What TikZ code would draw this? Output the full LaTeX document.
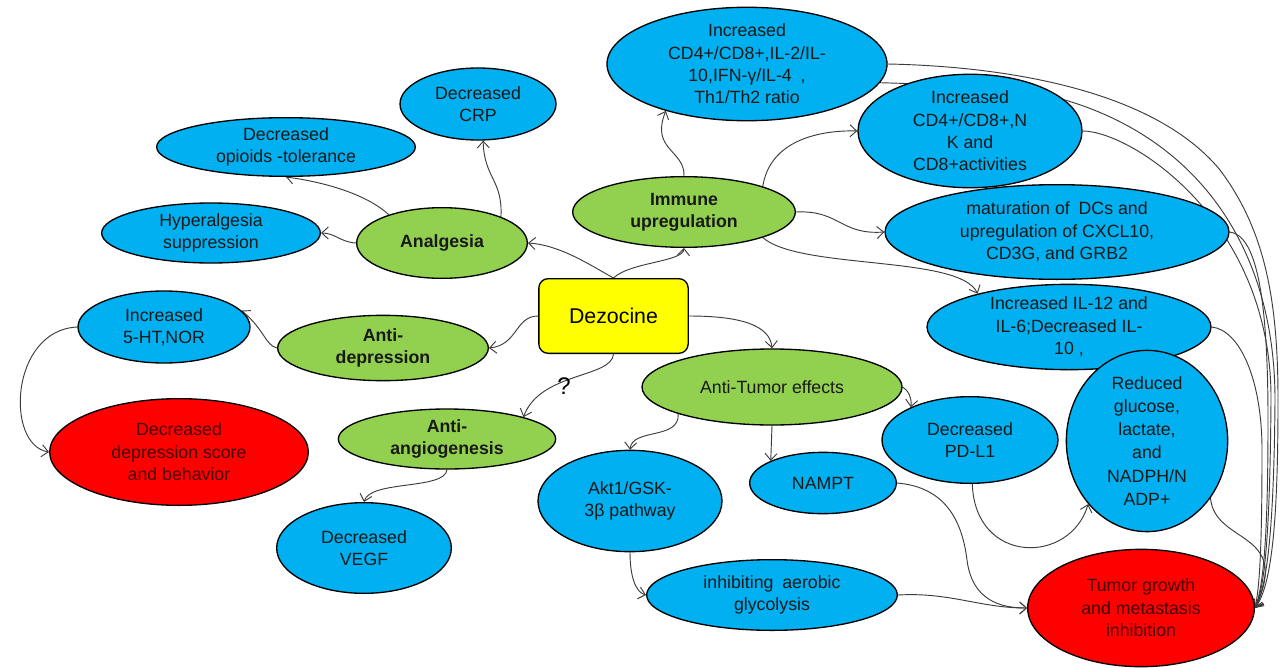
\documentclass[tikz,border=0pt]{standalone}
\usepackage{fontspec}
\setmainfont{Liberation Sans}
\usetikzlibrary{shapes.geometric,arrows.meta}
\definecolor{cblue}{RGB}{0,176,240}
\definecolor{cgreen}{RGB}{146,208,80}
\definecolor{cred}{RGB}{255,0,0}
\definecolor{cyel}{RGB}{255,255,0}
\definecolor{cdred}{RGB}{70,0,0}
\definecolor{cline}{RGB}{60,60,60}
\pgfdeclarelayer{bg}
\pgfsetlayers{bg,main}
\begin{document}
\begin{tikzpicture}[x=0.75pt,y=-0.75pt,
  ell/.style={ellipse,draw=black,line width=1pt,align=center,inner sep=0pt,
    font=\fontsize{13.3}{16.8}\selectfont,text=black!90},
  blu/.style={ell,fill=cblue},
  grn/.style={ell,fill=cgreen,font=\fontsize{13.3}{16.8}\selectfont\bfseries},
  rdn/.style={ell,fill=cred,text=cdred},
  conn/.style={draw=cline,line width=0.7pt,-{Straight Barb[length=5pt,width=9pt]}}]
\useasboundingbox (0,0) rectangle (1280,667);
% nodes
\node[blu,minimum width=210pt,minimum height=82pt] (th) at (747,64) {Increased\\CD4+/CD8+,IL-2/IL-\\10,IFN-γ/IL-4\enspace,\\Th1/Th2 ratio};
\node[blu,minimum width=168pt,minimum height=83pt] (nk) at (970,131) {Increased\\CD4+/CD8+,N\\K and\\CD8+activities};
\node[blu,minimum width=258pt,minimum height=71pt] (dc) at (1057,232) {maturation of\enspace DCs and\\upregulation of CXCL10,\\CD3G, and GRB2};
\node[blu,minimum width=213pt,minimum height=64pt] (il) at (1069,327) {Increased IL-12 and\\IL-6;Decreased IL-\\10 ,};
\node[blu,minimum width=121pt,minimum height=111pt,font=\fontsize{13.3}{17.3}\selectfont] (rg) at (1147,441) {Reduced\\glucose,\\lactate,\\and\\NADPH/N\\ADP+};
\node[blu,minimum width=132pt,minimum height=65pt] (pd) at (970,440) {Decreased\\PD-L1};
\node[rdn,minimum width=170pt,minimum height=88pt] (tu) at (1141,608) {Tumor growth\\and metastasis\\inhibition};
\node[blu,minimum width=110pt,minimum height=46pt] (na) at (823,483) {NAMPT};
\node[blu,minimum width=188pt,minimum height=53pt] (gl) at (772,595) {inhibiting\enspace aerobic\\glycolysis};
\node[blu,minimum width=138pt,minimum height=76pt] (ak) at (630,501) {Akt1/GSK-\\3β pathway};
\node[ell,fill=cgreen,minimum width=195pt,minimum height=57pt] (at) at (772,387) {Anti-Tumor effects};
\node[draw=black,line width=1pt,fill=cyel,rounded corners=7pt,minimum width=112pt,minimum height=56pt,
  font=\fontsize{16}{19}\selectfont] (dz) at (613.5,316) {Dezocine};
\node[grn,minimum width=167pt,minimum height=53pt] (im) at (684,212) {Immune\\upregulation};
\node[grn,minimum width=128pt,minimum height=53pt] (an) at (442,243) {Analgesia};
\node[blu,minimum width=117pt,minimum height=54pt] (crp) at (478,104) {Decreased\\CRP};
\node[blu,minimum width=194pt,minimum height=44pt] (op) at (286,147) {Decreased\\opioids -tolerance};
\node[blu,minimum width=164pt,minimum height=45pt] (hy) at (211,233) {Hyperalgesia\\suppression};
\node[blu,minimum width=129pt,minimum height=54pt] (ht) at (164,327) {Increased\\5-HT,NOR};
\node[grn,minimum width=158pt,minimum height=49pt] (ad) at (383,348) {Anti-\\depression};
\node[rdn,minimum width=194pt,minimum height=80pt] (dd) at (179,452) {Decreased\\depression score\\and behavior};
\node[grn,minimum width=163pt,minimum height=45pt] (aa) at (447,439) {Anti-\\angiogenesis};
\node[blu,minimum width=131pt,minimum height=68pt] (ve) at (364,548) {Decreased\\VEGF};
\node[font=\fontsize{18}{20}\selectfont] (q) at (564,386) {?};
% connectors
\begin{pgfonlayer}{bg}
\fill[white] (0,0) rectangle (1280,667);
\draw[conn] (dz.north) .. controls (590,265) and (560,245) .. (an.east);
\draw[conn] (dz.north) .. controls (630,262) and (683,262) .. (im.south);
\draw[conn] (dz.west) .. controls (515,316) and (518,345) .. (ad.east);
\draw[conn] (dz.south) .. controls (612,378) and (540,372) .. (aa.16);
\draw[conn] (dz.east) .. controls (740,316) and (770,325) .. (at.north);
\draw[conn] (an.24) .. controls (503,180) and (484,178) .. (crp.-82);
\draw[conn] (an.152) .. controls (362,190) and (310,180) .. (op.-90);
\draw[conn] (an.west) .. controls (340,242) and (335,233) .. (hy.east);
\draw[conn] (im.north) .. controls (685,150) and (650,150) .. (th.-150);
\draw[conn] (im.18) .. controls (770,140) and (820,130) .. (nk.west);
\draw[conn] (im.east) .. controls (840,210) and (840,235) .. (dc.west);
\draw[conn] (im.-18) .. controls (800,270) and (960,255) .. (il.160);
\draw[conn] (ad.west) .. controls (265,345) and (265,330) .. (ht.12);
\draw[conn] (ht.west) .. controls (10,330) and (5,445) .. (dd.west);
\draw[conn] (aa.south) .. controls (445,490) and (370,480) .. (ve.north);
\draw[conn] (at.-164) .. controls (680,440) and (632,428) .. (ak.north);
\draw[conn] (at.south) -- (na.157);
\draw[conn] (at.east) .. controls (908,390) and (912,398) .. (pd.151);
\draw[conn] (ak.south) .. controls (630,575) and (635,592) .. (gl.west);
\draw[conn] (pd.-87) .. controls (975,565) and (1070,565) .. (rg.-133);
\draw[conn] (na.east) .. controls (945,487) and (962,520) .. (967,560) .. controls (972,600) and (1000,608) .. (tu.west);
\draw[conn] (gl.east) .. controls (950,592) and (980,608) .. (tu.west);
\draw[conn] (rg.-42) .. controls (1215,545) and (1292,530) .. (tu.east);
\draw[conn] (th.east) .. controls (990,66) and (1150,85) .. (1220,170) .. controls (1265,230) and (1278,300) .. (1278,400) .. controls (1278,520) and (1272,585) .. (tu.east);
\draw[conn] (th.-8) .. controls (950,85) and (1010,85) .. (1065,100) .. controls (1200,140) and (1275,250) .. (1275,400) .. controls (1274,520) and (1268,585) .. (tu.east);
\draw[conn] (nk.east) .. controls (1130,131) and (1272,220) .. (1271,400) .. controls (1270,520) and (1266,585) .. (tu.east);
\draw[conn] (dc.east) .. controls (1255,235) and (1268,290) .. (1268,420) .. controls (1268,530) and (1264,585) .. (tu.east);
\draw[conn] (il.east) .. controls (1240,330) and (1262,380) .. (1262,450) .. controls (1262,540) and (1260,585) .. (tu.east);
\end{pgfonlayer}
\end{tikzpicture}
\end{document}
